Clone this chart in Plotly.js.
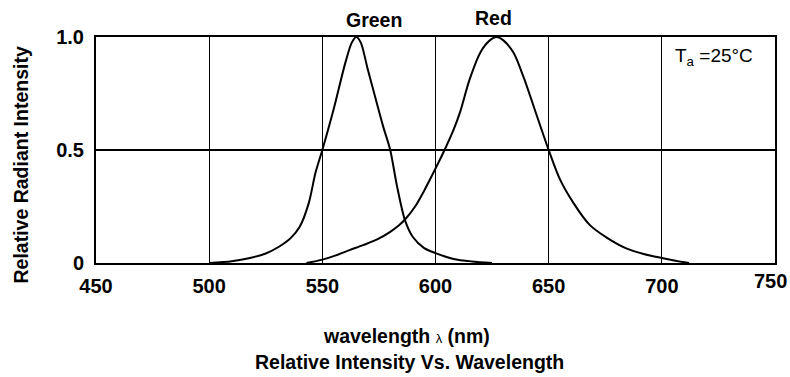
<!DOCTYPE html>
<html>
<head>
<meta charset="utf-8">
<script src="https://cdn.plot.ly/plotly-3.0.1.min.js"></script>
<style>html,body{margin:0;padding:0;background:#fff;}#chart{width:790px;height:377px;}</style>
</head>
<body>
<div id="chart"></div>
<script>
// Green LED spectrum
var greenWl  = [500, 510, 518, 525, 531, 536, 540, 544, 547, 550, 555, 560, 563, 565, 567, 570, 574, 577, 580, 583, 586.5, 590, 595, 600, 608, 616, 625];
var greenVal = [0, 0.008, 0.022, 0.042, 0.073, 0.11, 0.16, 0.265, 0.40, 0.50, 0.68, 0.88, 0.975, 1.0, 0.975, 0.86, 0.71, 0.60, 0.50, 0.34, 0.19, 0.115, 0.066, 0.044, 0.018, 0.007, 0];
// Red LED spectrum
var redWl  = [543, 550, 556, 562, 568, 574, 580, 584, 587, 591, 595, 600, 604, 608, 611, 615, 620, 624, 627, 630, 634.5, 639, 645, 650, 655, 661, 668, 676, 684, 692, 700, 706, 712];
var redVal = [0, 0.015, 0.034, 0.057, 0.079, 0.103, 0.138, 0.168, 0.198, 0.25, 0.32, 0.418, 0.50, 0.59, 0.672, 0.81, 0.935, 0.985, 1.0, 0.985, 0.93, 0.82, 0.645, 0.50, 0.37, 0.265, 0.17, 0.11, 0.066, 0.04, 0.022, 0.01, 0];

var xTicks = [450, 500, 550, 600, 650, 700, 750];
var xTickText = ['450', '500', '550', '600', '650', '700', '750'];
var yTicks = [0, 0.5, 1];
var yTickText = ['0', '0.5', '1.0'];

var FONT = 'Liberation Sans, Arial, sans-serif';

var traces = [
  {x: greenWl, y: greenVal, mode: 'lines', line: {color: '#000', width: 2, shape: 'spline', smoothing: 0.8}, hoverinfo: 'skip'},
  {x: redWl, y: redVal, mode: 'lines', line: {color: '#000', width: 2, shape: 'spline', smoothing: 0.8}, hoverinfo: 'skip'}
];

// last tick label is drawn slightly left/raised (as in the reference) so it stays inside the page
var lastIdx = xTicks.length - 1;
var axisTickText = xTickText.map(function (t, i) { return i === lastIdx ? '' : t; });

var layout = {
  width: 790, height: 377,
  margin: {l: 96, r: 15, t: 37, b: 114},
  paper_bgcolor: '#fff', plot_bgcolor: '#fff',
  showlegend: false,
  font: {family: FONT, color: '#000'},
  xaxis: {
    range: [450, 750], tickvals: xTicks, ticktext: axisTickText, ticks: '',
    showgrid: true, gridcolor: '#000', gridwidth: 1,
    showline: true, linecolor: '#000', linewidth: 2, mirror: true,
    zeroline: false, fixedrange: true,
    tickfont: {family: FONT, size: 20, weight: 'bold', color: '#000'},
    ticklabelstandoff: 4
  },
  yaxis: {
    range: [0, 1], tickvals: yTicks, ticktext: yTickText, ticks: '',
    showgrid: true, gridcolor: '#000', gridwidth: 2,
    showline: true, linecolor: '#000', linewidth: 2, mirror: true,
    zeroline: false, fixedrange: true,
    tickfont: {family: FONT, size: 20, weight: 'bold', color: '#000'},
    ticklabelstandoff: 6
  },
  annotations: [
    {xref: 'x', yref: 'paper', x: xTicks[lastIdx], y: 0, text: '<b>' + xTickText[lastIdx] + '</b>', showarrow: false, font: {family: FONT, size: 20, color: '#000'}, xanchor: 'center', yanchor: 'middle', xshift: -5, yshift: -18},
    {xref: 'paper', yref: 'paper', x: -0.111, y: 0.434, text: '<b>Relative Radiant Intensity</b>', textangle: -90, showarrow: false, font: {family: FONT, size: 19.5, color: '#000'}, xanchor: 'center', yanchor: 'middle'},
    {xref: 'paper', yref: 'paper', x: 0.457, y: -0.325, text: '<b>wavelength </b><span style="font-size:13px">λ</span><b> (nm)</b>', showarrow: false, font: {family: FONT, size: 19.5, color: '#000'}, xanchor: 'center', yanchor: 'middle'},
    {xref: 'paper', yref: 'paper', x: 0.4615, y: -0.436, text: '<b>Relative Intensity Vs. Wavelength</b>', showarrow: false, font: {family: FONT, size: 19.5, color: '#000'}, xanchor: 'center', yanchor: 'middle'},
    {xref: 'x', yref: 'paper', x: 572.9, y: 1.074, text: '<b>Green</b>', showarrow: false, font: {family: FONT, size: 19.5, color: '#000'}, xanchor: 'center', yanchor: 'middle'},
    {xref: 'x', yref: 'paper', x: 625.5, y: 1.082, text: '<b>Red</b>', showarrow: false, font: {family: FONT, size: 19.5, color: '#000'}, xanchor: 'center', yanchor: 'middle'},
    {xref: 'x', yref: 'paper', x: 705, y: 0.91, text: 'T<sub>a</sub> =25°C', showarrow: false, font: {family: FONT, size: 19, color: '#000'}, xanchor: 'left', yanchor: 'middle'}
  ]
};

Plotly.newPlot('chart', traces, layout, {displayModeBar: false, staticPlot: true});
</script>
</body>
</html>
